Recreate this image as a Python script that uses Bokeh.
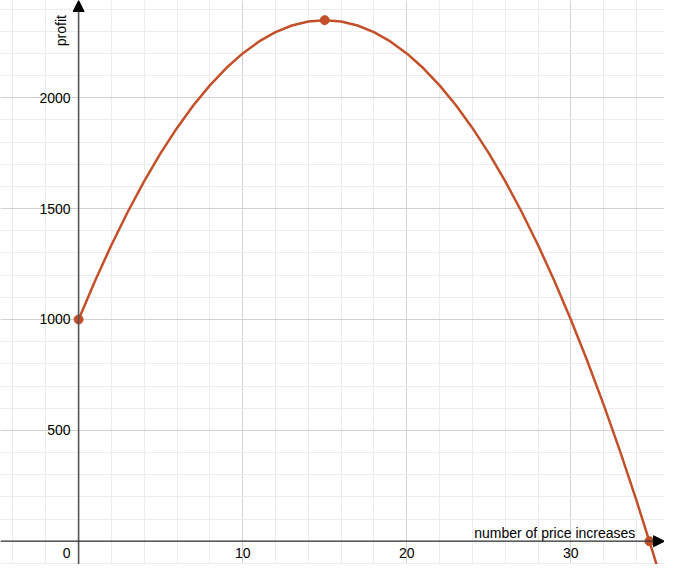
import math
from bokeh.plotting import figure
from bokeh.models import SingleIntervalTicker, Arrow, NormalHead
from bokeh.core.properties import value
from bokeh.embed import file_html
from bokeh.resources import INLINE

# ---- data ----
increases = [0, 1, 2, 3, 4, 5, 6, 7, 8, 9, 10, 11, 12, 13, 14, 15, 16, 17, 18,
             19, 20, 21, 22, 23, 24, 25, 26, 27, 28, 29, 30, 31, 32, 33, 34, 35, 35.5]
profit = [1000, 1174, 1336, 1486, 1624, 1750, 1864, 1966, 2056, 2134, 2200, 2254,
          2296, 2326, 2344, 2350, 2344, 2326, 2296, 2254, 2200, 2134, 2056, 1966,
          1864, 1750, 1624, 1486, 1336, 1174, 1000, 814, 616, 406, 184, -50, -172]
key_x = [0, 15, 34.79]
key_y = [1000, 2350, 0]
x_tick_vals = [10, 20, 30]
x_tick_labels = ["10", "20", "30"]
y_tick_vals = [500, 1000, 1500, 2000]
y_tick_labels = ["500", "1000", "1500", "2000"]
x_title = "number of price increases"
y_title = "profit"

X0, X1 = -4.76, 35.71
Y0, Y1 = -105.0, 2438.6
FONT = "Liberation Sans"
FS = "14px"
TXT = "#000000"
RED = "#c4502a"

p = figure(width=664, height=564, x_range=(X0, X1), y_range=(Y0, Y1),
           output_backend="svg", toolbar_location=None, min_border=0)
p.axis.visible = False
p.outline_line_color = None
p.background_fill_color = "white"

p.xgrid.ticker = SingleIntervalTicker(interval=10, num_minor_ticks=5)
p.ygrid.ticker = SingleIntervalTicker(interval=500, num_minor_ticks=5)
for g in (p.xgrid, p.ygrid):
    g.grid_line_color = "#d2d2d2"
    g.grid_line_width = 1
    g.minor_grid_line_color = "#ececec"
    g.minor_grid_line_width = 1

# axes with arrowheads
p.add_layout(Arrow(x_start=0, y_start=Y0, x_end=0, y_end=Y1,
                   line_color="#555555", line_width=1.6,
                   end=NormalHead(size=11, fill_color="black", line_color="black")))
p.add_layout(Arrow(x_start=X0, y_start=0, x_end=X1, y_end=0,
                   line_color="#333333", line_width=1.2,
                   end=NormalHead(size=11, fill_color="black", line_color="black")))

# curve and key points
p.line(increases, profit, line_color=RED, line_width=2.5, line_join="round")
p.scatter(key_x, key_y, size=9, fill_color=RED, line_color=RED)

# tick labels
p.text(x=x_tick_vals, y=[0] * len(x_tick_vals), text=x_tick_labels,
       text_font=value(FONT), text_font_size=FS, text_color=TXT,
       text_align="center", text_baseline="middle", y_offset=12)
p.text(x=[0], y=[0], text=["0"],
       text_font=value(FONT), text_font_size=FS, text_color=TXT,
       text_align="center", text_baseline="middle", x_offset=-12, y_offset=12)
p.text(x=[0] * len(y_tick_vals), y=y_tick_vals, text=y_tick_labels,
       text_font=value(FONT), text_font_size=FS, text_color=TXT,
       text_align="right", text_baseline="middle", x_offset=-8)

# axis titles
p.text(x=[33.93], y=[0], text=[x_title],
       text_font=value(FONT), text_font_size=FS, text_color=TXT,
       text_align="right", text_baseline="alphabetic", y_offset=-8)
p.text(x=[0], y=[2373], text=[y_title], angle=math.pi / 2,
       text_font=value(FONT), text_font_size=FS, text_color=TXT,
       text_align="right", text_baseline="bottom", x_offset=-10)

open("out.html", "w").write(file_html(p, INLINE))
